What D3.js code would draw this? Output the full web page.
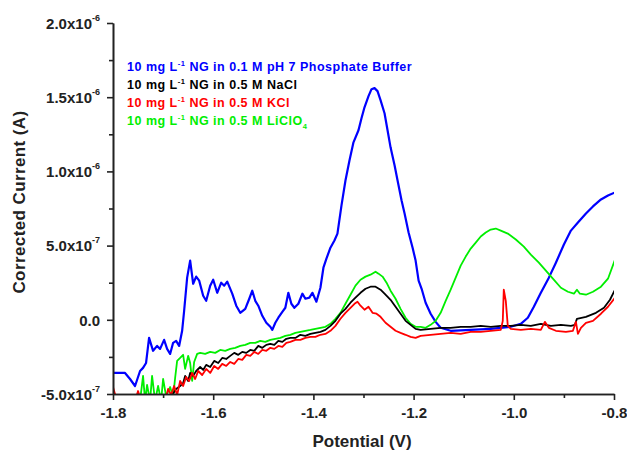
<!DOCTYPE html>
<html>
<head>
<meta charset="utf-8">
<script src="https://cdn.jsdelivr.net/npm/d3@7"></script>
<style>
  body { margin: 0; background: #fff; }
  text { font-family: "Liberation Sans", Arial, sans-serif; font-weight: bold; }
</style>
</head>
<body>
<div id="chart"></div>
<script>
// Werte: [Potential (V), Strom (x10^-7 A)]
const phosphate = [
  [-1.800,-3.58],[-1.776,-3.58],[-1.766,-3.99],[-1.756,-4.46],[-1.746,-3.45],[-1.740,-3.24],[-1.734,-2.91],
  [-1.728,-1.22],[-1.720,-2.09],[-1.712,-1.76],[-1.706,-1.96],[-1.698,-1.35],[-1.692,-1.96],[-1.686,-2.30],
  [-1.680,-1.55],[-1.674,-1.42],[-1.668,-1.76],[-1.662,-0.74],[-1.658,0.61],[-1.652,2.84],[-1.646,3.99],
  [-1.640,2.43],[-1.634,2.91],[-1.628,2.64],[-1.620,1.62],[-1.614,1.28],[-1.606,2.30],[-1.600,2.70],
  [-1.592,1.82],[-1.584,2.50],[-1.578,2.30],[-1.572,2.57],[-1.562,1.76],[-1.554,0.95],[-1.546,0.47],
  [-1.536,0.74],[-1.528,1.42],[-1.522,1.96],[-1.516,1.28],[-1.510,0.95],[-1.502,0.27],[-1.494,-0.20],
  [-1.486,-0.47],[-1.482,-0.68],[-1.476,-0.20],[-1.470,0.14],[-1.462,0.54],[-1.456,0.81],[-1.450,1.82],
  [-1.444,1.08],[-1.438,0.81],[-1.430,1.08],[-1.422,1.76],[-1.416,1.42],[-1.408,1.49],[-1.402,1.82],
  [-1.394,1.22],[-1.386,2.16],[-1.380,3.51],[-1.374,4.12],[-1.366,4.86],[-1.358,5.34],[-1.352,5.81],
  [-1.344,7.70],[-1.336,9.39],[-1.328,10.74],[-1.320,11.96],[-1.310,12.77],[-1.304,13.58],[-1.298,14.32],
  [-1.290,15.07],[-1.284,15.54],[-1.278,15.61],[-1.272,15.41],[-1.266,14.80],[-1.258,13.92],[-1.252,12.77],
  [-1.246,11.62],[-1.238,10.41],[-1.232,9.39],[-1.224,8.04],[-1.218,7.16],[-1.210,5.88],[-1.202,4.86],
  [-1.196,3.99],[-1.190,2.64],[-1.184,2.09],[-1.176,1.15],[-1.166,0.41],[-1.156,-0.14],[-1.146,-0.54],
  [-1.126,-0.74],[-1.086,-0.68],[-1.046,-0.61],[-1.006,-0.47],[-0.986,-0.27],[-0.972,0.14],[-0.960,0.88],
  [-0.946,1.82],[-0.930,2.84],[-0.916,3.85],[-0.900,5.07],[-0.886,6.01],[-0.872,6.55],[-0.856,7.16],
  [-0.842,7.64],[-0.826,8.11],[-0.812,8.38],[-0.798,8.58]
];

const nacl = [
  [-1.692,-5.07],[-1.682,-5.07],[-1.674,-4.66],[-1.666,-4.46],[-1.660,-4.26],[-1.656,-3.78],[-1.650,-4.12],
  [-1.646,-3.58],[-1.640,-3.78],[-1.634,-3.45],[-1.626,-3.18],[-1.620,-3.38],[-1.614,-3.04],[-1.606,-3.18],
  [-1.598,-2.77],[-1.590,-2.91],[-1.582,-2.57],[-1.574,-2.64],[-1.566,-2.43],[-1.558,-2.23],[-1.550,-2.36],
  [-1.542,-2.16],[-1.534,-2.23],[-1.526,-2.03],[-1.518,-2.09],[-1.510,-1.76],[-1.502,-1.89],[-1.494,-1.69],
  [-1.486,-1.62],[-1.478,-1.69],[-1.470,-1.42],[-1.462,-1.49],[-1.454,-1.28],[-1.446,-1.22],[-1.436,-1.22],
  [-1.426,-1.01],[-1.416,-1.08],[-1.406,-0.95],[-1.396,-0.88],[-1.386,-0.81],[-1.376,-0.68],[-1.366,-0.41],
  [-1.356,-0.07],[-1.346,0.41],[-1.336,0.74],[-1.326,1.15],[-1.316,1.49],[-1.306,1.82],[-1.296,2.09],
  [-1.286,2.23],[-1.276,2.23],[-1.266,2.03],[-1.258,1.76],[-1.246,1.35],[-1.236,0.88],[-1.226,0.41],
  [-1.216,-0.07],[-1.206,-0.34],[-1.196,-0.61],[-1.186,-0.68],[-1.166,-0.61],[-1.146,-0.54],[-1.126,-0.54],
  [-1.106,-0.47],[-1.086,-0.47],[-1.066,-0.41],[-1.046,-0.47],[-1.026,-0.41],[-1.006,-0.41],[-0.986,-0.34],
  [-0.966,-0.41],[-0.946,-0.27],[-0.926,-0.41],[-0.906,-0.34],[-0.886,-0.41],[-0.878,-0.34],[-0.874,0.07],
  [-0.856,0.20],[-0.836,0.47],[-0.820,0.81],[-0.808,1.35],[-0.798,2.03]
];

const kcl = [
  [-1.800,-4.53],[-1.792,-5.47],[-1.756,-5.47],[-1.750,-4.80],[-1.744,-5.47],[-1.696,-5.47],[-1.690,-4.66],
  [-1.684,-5.07],[-1.678,-4.46],[-1.672,-5.07],[-1.666,-4.12],[-1.660,-4.46],[-1.654,-3.85],[-1.648,-4.12],
  [-1.642,-3.58],[-1.636,-3.99],[-1.630,-3.45],[-1.622,-3.72],[-1.614,-3.31],[-1.606,-3.58],[-1.598,-3.11],
  [-1.590,-3.31],[-1.582,-2.97],[-1.574,-3.11],[-1.566,-2.84],[-1.558,-2.97],[-1.550,-2.64],[-1.542,-2.70],
  [-1.534,-2.36],[-1.526,-2.43],[-1.518,-2.16],[-1.510,-2.30],[-1.502,-2.03],[-1.494,-2.09],[-1.486,-1.89],
  [-1.478,-1.96],[-1.470,-1.76],[-1.462,-1.82],[-1.454,-1.55],[-1.446,-1.49],[-1.436,-1.35],[-1.426,-1.35],
  [-1.416,-1.22],[-1.406,-1.15],[-1.396,-1.15],[-1.386,-1.01],[-1.376,-0.95],[-1.366,-0.74],[-1.356,-0.41],
  [-1.346,0.07],[-1.336,0.47],[-1.326,0.81],[-1.318,1.08],[-1.312,1.22],[-1.306,0.95],[-1.298,0.68],
  [-1.290,0.88],[-1.282,0.47],[-1.274,0.41],[-1.266,0.20],[-1.256,-0.20],[-1.246,-0.47],[-1.236,-0.74],
  [-1.226,-0.88],[-1.216,-1.01],[-1.206,-1.15],[-1.196,-1.22],[-1.186,-1.08],[-1.166,-1.01],[-1.146,-0.95],
  [-1.126,-0.88],[-1.106,-0.95],[-1.086,-0.81],[-1.066,-0.81],[-1.046,-0.74],[-1.026,-0.68],[-1.022,-0.07],
  [-1.020,2.03],[-1.016,1.28],[-1.012,-0.41],[-1.006,-0.61],[-0.986,-0.68],[-0.966,-0.61],[-0.946,-0.68],
  [-0.938,-0.14],[-0.930,-0.54],[-0.916,-0.74],[-0.896,-0.81],[-0.882,-0.74],[-0.876,-0.14],[-0.872,-0.95],
  [-0.866,-0.54],[-0.856,-0.20],[-0.842,-0.07],[-0.826,0.41],[-0.812,0.88],[-0.798,1.49]
];

const liclo4 = [
  [-1.746,-5.47],[-1.740,-3.78],[-1.736,-5.47],[-1.732,-4.39],[-1.726,-5.47],[-1.722,-3.78],[-1.716,-5.47],
  [-1.710,-4.46],[-1.704,-5.47],[-1.700,-3.99],[-1.694,-5.14],[-1.686,-4.53],[-1.680,-5.20],[-1.676,-3.92],
  [-1.672,-2.77],[-1.666,-2.57],[-1.660,-2.36],[-1.656,-3.31],[-1.650,-2.43],[-1.646,-2.91],[-1.642,-4.12],
  [-1.638,-2.84],[-1.632,-2.30],[-1.626,-2.23],[-1.616,-2.30],[-1.606,-2.16],[-1.596,-2.23],[-1.586,-2.03],
  [-1.576,-2.09],[-1.566,-1.96],[-1.556,-1.89],[-1.546,-1.76],[-1.536,-1.69],[-1.526,-1.55],[-1.516,-1.55],
  [-1.506,-1.42],[-1.496,-1.49],[-1.486,-1.35],[-1.476,-1.28],[-1.466,-1.22],[-1.456,-1.08],[-1.446,-1.01],
  [-1.436,-0.88],[-1.426,-0.81],[-1.416,-0.74],[-1.406,-0.68],[-1.396,-0.61],[-1.386,-0.54],[-1.376,-0.47],
  [-1.366,-0.27],[-1.356,0.07],[-1.346,0.47],[-1.336,1.08],[-1.326,1.69],[-1.316,2.30],[-1.306,2.70],
  [-1.296,2.91],[-1.286,3.04],[-1.276,3.24],[-1.270,3.11],[-1.262,2.91],[-1.254,2.50],[-1.246,1.96],
  [-1.236,1.42],[-1.226,0.74],[-1.216,0.14],[-1.206,-0.27],[-1.196,-0.47],[-1.186,-0.47],[-1.176,-0.54],
  [-1.166,-0.34],[-1.156,-0.07],[-1.146,0.47],[-1.136,1.28],[-1.126,2.03],[-1.116,2.84],[-1.106,3.65],
  [-1.096,4.26],[-1.086,4.80],[-1.076,5.20],[-1.066,5.61],[-1.056,5.88],[-1.046,6.08],[-1.036,6.15],
  [-1.026,6.01],[-1.012,5.81],[-0.996,5.41],[-0.980,4.93],[-0.966,4.39],[-0.950,3.85],[-0.936,3.31],
  [-0.922,2.77],[-0.906,2.16],[-0.892,1.89],[-0.880,1.76],[-0.874,2.03],[-0.868,1.76],[-0.856,1.69],
  [-0.842,1.89],[-0.826,2.23],[-0.812,2.77],[-0.798,4.05]
];

const xTicks = [-1.8, -1.6, -1.4, -1.2, -1.0, -0.8];
const xTickLabels = ["-1.8", "-1.6", "-1.4", "-1.2", "-1.0", "-0.8"];
const yTicks = [-5, 0, 5, 10, 15, 20];
const yTickLabels = [["-5.0x10", "-7"], ["0.0", ""], ["5.0x10", "-7"], ["1.0x10", "-6"], ["1.5x10", "-6"], ["2.0x10", "-6"]];

const series = [
  {data: phosphate, color: "#0000ff", salt: "0.1 M pH 7 Phosphate Buffer", sub: ""},
  {data: nacl, color: "#000000", salt: "0.5 M NaCl", sub: ""},
  {data: kcl, color: "#ff0000", salt: "0.5 M KCl", sub: ""},
  {data: liclo4, color: "#00ee00", salt: "0.5 M LiClO", sub: "4"}
];

const width = 627, height = 455;
const mLeft = 113, mRight = 614, mTop = 23, mBottom = 394;

const svg = d3.select("#chart").append("svg")
  .attr("width", width).attr("height", height);

const x = d3.scaleLinear().domain([-1.8, -0.8]).range([mLeft, mRight]);
const y = d3.scaleLinear().domain([-5, 20]).range([mBottom, mTop]);

svg.append("clipPath").attr("id", "clip")
  .append("rect").attr("x", mLeft).attr("y", mTop).attr("width", mRight - mLeft).attr("height", mBottom - mTop);

// Linien (Reihenfolge: blau, grün, schwarz, rot oben)
const line = d3.line().x(d => x(d[0])).y(d => y(d[1]));
const drawOrder = [series[0], series[3], series[1], series[2]];
svg.append("g").attr("clip-path", "url(#clip)")
  .selectAll("path").data(drawOrder).enter().append("path")
  .attr("d", d => line(d.data))
  .attr("fill", "none")
  .attr("stroke", d => d.color)
  .attr("stroke-width", d => d.color === "#0000ff" ? 2.2 : 1.8)
  .attr("stroke-linejoin", "round");

// Achsen
const xAxis = svg.append("g").attr("transform", `translate(0,${mBottom})`)
  .call(d3.axisBottom(x).tickValues(xTicks).tickSize(6).tickSizeOuter(0).tickFormat((d, i) => xTickLabels[i]));
svg.append("g").attr("transform", `translate(0,${mBottom})`)
  .call(d3.axisBottom(x).tickValues([-1.7, -1.5, -1.3, -1.1, -0.9]).tickSize(4).tickSizeOuter(0).tickFormat(""));

const yAxis = svg.append("g").attr("transform", `translate(${mLeft},0)`)
  .call(d3.axisLeft(y).tickValues(yTicks).tickSize(6).tickSizeOuter(0).tickFormat(""));
svg.append("g").attr("transform", `translate(${mLeft},0)`)
  .call(d3.axisLeft(y).tickValues([-2.5, 2.5, 7.5, 12.5, 17.5]).tickSize(4).tickSizeOuter(0).tickFormat(""));

svg.selectAll(".domain, .tick line").attr("stroke", "#222").attr("stroke-width", 1.6);

xAxis.selectAll(".tick text")
  .attr("font-size", 15).attr("fill", "#222").attr("y", 10).attr("dy", "0.9em");

yAxis.selectAll(".tick").each(function(d, i) {
  const t = d3.select(this).append("text")
    .attr("x", -13).attr("dy", "0.35em")
    .attr("text-anchor", "end").attr("font-size", 15).attr("fill", "#222");
  t.append("tspan").text(yTickLabels[i][0]);
  if (yTickLabels[i][1]) {
    t.append("tspan").attr("font-size", 9).attr("dy", "-0.9em").text(yTickLabels[i][1]);
  }
});

// Achsentitel
svg.append("text")
  .attr("x", 362).attr("y", 447)
  .attr("text-anchor", "middle").attr("font-size", 17).attr("fill", "#222")
  .text("Potential (V)");
svg.append("text")
  .attr("transform", `translate(25,202) rotate(-90)`)
  .attr("text-anchor", "middle").attr("font-size", 17).attr("letter-spacing", 0.4).attr("fill", "#222")
  .text("Corrected Current (A)");

// Legende
const legend = svg.append("g");
series.forEach((s, i) => {
  const t = legend.append("text")
    .attr("x", 127).attr("y", 71 + i * 18)
    .attr("font-size", 12.5).attr("letter-spacing", 0.5).attr("fill", s.color);
  t.append("tspan").text("10 mg L");
  t.append("tspan").attr("font-size", 7.5).attr("dy", -5).text("-1");
  t.append("tspan").attr("dy", 5).text(" NG in " + s.salt);
  if (s.sub) t.append("tspan").attr("font-size", 7.5).attr("dy", 4).text(s.sub);
});
</script>
</body>
</html>
